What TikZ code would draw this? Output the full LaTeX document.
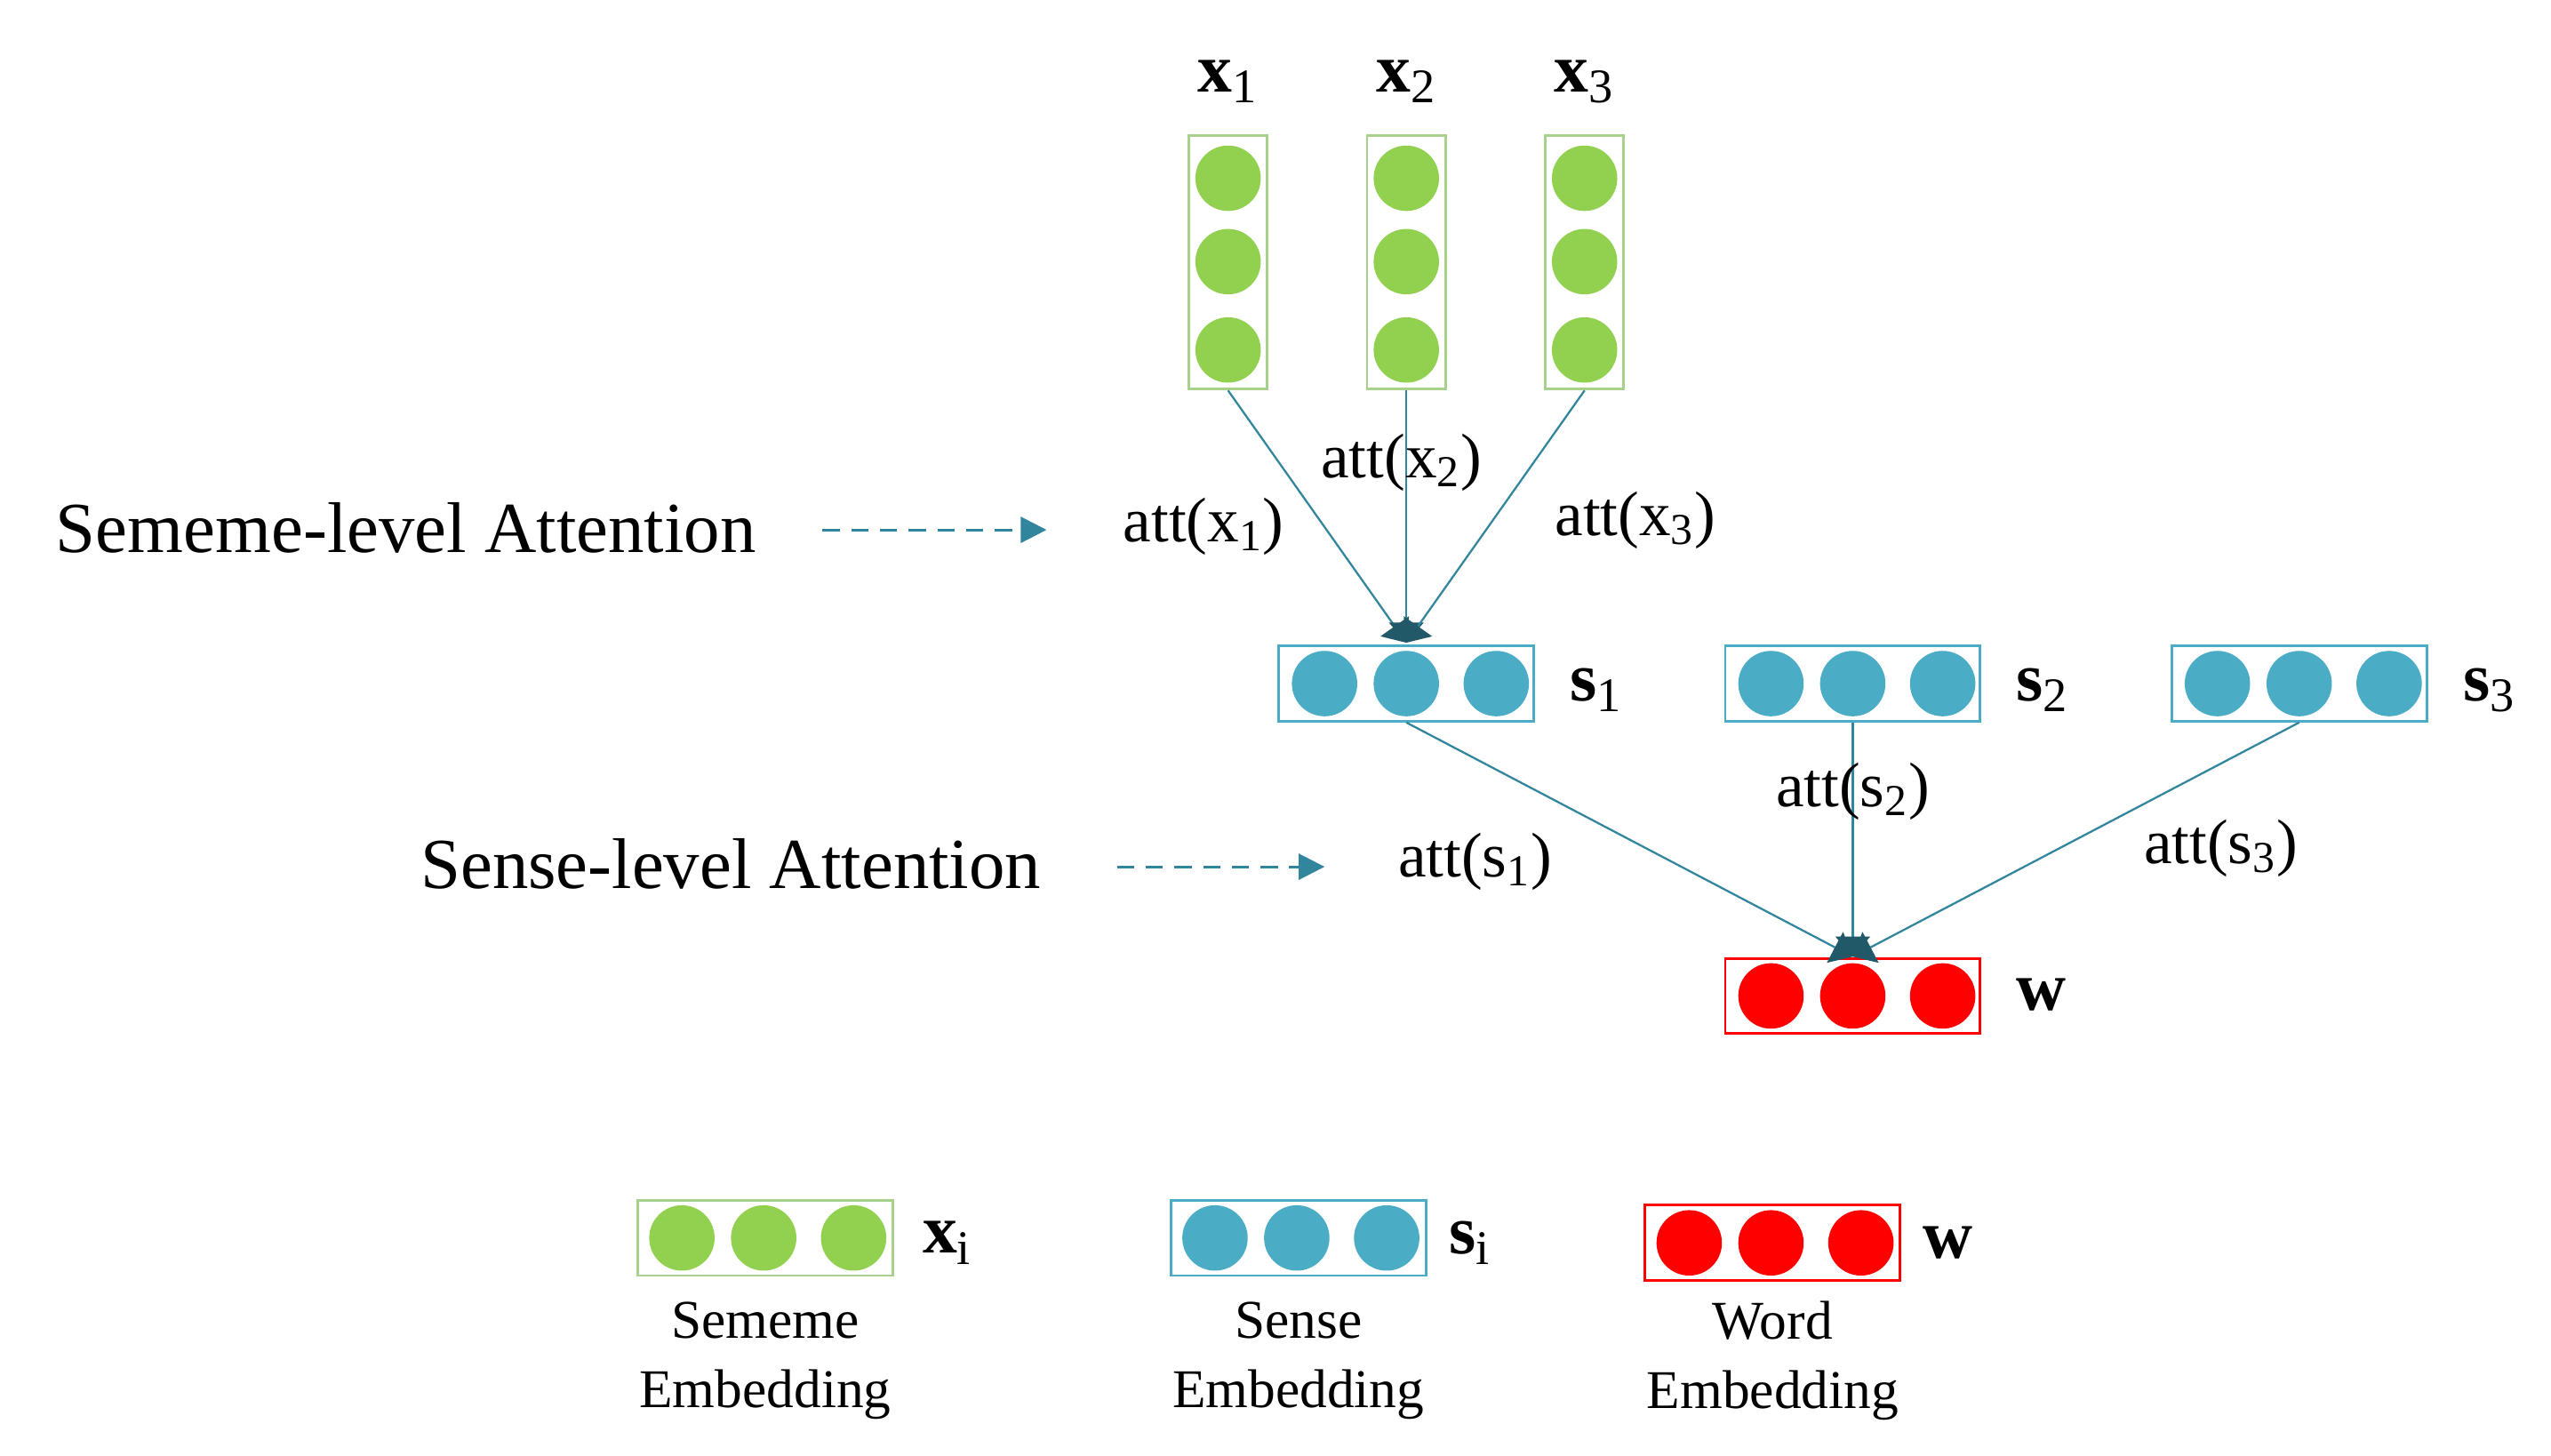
\documentclass[tikz,border=0pt]{standalone}
\usepackage{fontspec}
\setmainfont{Liberation Serif}
\usetikzlibrary{arrows.meta}
\definecolor{gc}{HTML}{92D050}\definecolor{gb}{HTML}{A9D18E}
\definecolor{bc}{HTML}{4BACC6}\definecolor{bb}{HTML}{4BACC6}
\definecolor{rc}{HTML}{FF0000}
\definecolor{ln}{HTML}{31859C}\definecolor{hd}{HTML}{215968}
\begin{document}
\begin{tikzpicture}[x=0.02cm,y=-0.02cm,
 dot/.style={circle,inner sep=0,minimum size=40\pgflinewidth*0+0.8cm},
 hbox/.style={draw=#1,line width=0.9pt,minimum width=3.12cm,minimum height=0.92cm,inner sep=0},
 vbox/.style={draw=gb,line width=0.9pt,minimum width=0.96cm,minimum height=3.1cm,inner sep=0},
 lab/.style={font=\fontsize{22}{26}\selectfont},
 big/.style={font=\fontsize{25}{30}\selectfont},
 bl/.style={font=\fontsize{24}{28}\selectfont\bfseries},
 leg/.style={font=\fontsize{19}{24}\selectfont,align=center},
 con/.style={draw=ln,line width=0.7pt,-{Triangle[width=12pt,length=7pt,color=hd]}},
 dsh/.style={draw=ln,line width=0.9pt,dash pattern=on 6pt off 4pt,-{Triangle[width=9pt,length=9pt,color=ln]}}]
\useasboundingbox (0,0) rectangle (1560,890);
% sememe columns
\foreach \n/\x in {1/751,2/860,3/969}{
 \node[vbox] (X\n) at (\x,160.5) {};
 \foreach \y in {109,160,214} \node[dot,fill=gc] at (\x,\y) {};
 \node[bl] (XL\n) at (\x,50) {x$_{\mathrm{\n}}$};
}
% senses
\foreach \n/\x in {1/860,2/1133,3/1406}{
 \node[hbox=bb] (S\n) at (\x,418) {};
 \foreach \d in {-50,0,55} \node[dot,fill=bc] at (\x+\d,418) {};
 \node[bl,anchor=west] (SL\n) at (\x+94,422) {s$_{\mathrm{\n}}$};
}
% word
\node[hbox=rc] (W) at (1133,609) {};
\foreach \d in {-50,0,55} \node[dot,fill=rc] at (1133+\d,609) {};
\node[bl,anchor=west] (WL) at (1227,608) {w};
% connectors
\coordinate (TS) at (860,393);
\coordinate (TW) at (1133,585);
\draw[con] (X1.south) -- (TS);
\draw[con] (X2.south) -- (TS);
\draw[con] (X3.south) -- (TS);
\draw[con] (S1.south) -- (TW);
\draw[con] (S2.south) -- (TW);
\draw[con] (S3.south) -- (TW);
% labels
\node[lab] (a1) at (736,322) {att(x$_{\mathrm{1}}$)};
\node[lab] (a2) at (857,283) {att(x$_{\mathrm{2}}$)};
\node[lab] (a3) at (1000,318) {att(x$_{\mathrm{3}}$)};
\node[lab] (b1) at (902,527) {att(s$_{\mathrm{1}}$)};
\node[lab] (b2) at (1133,484) {att(s$_{\mathrm{2}}$)};
\node[lab] (b3) at (1358,519) {att(s$_{\mathrm{3}}$)};
\node[big,anchor=west] (SM) at (28,323) {Sememe-level Attention};
\node[big,anchor=west] (SN) at (251,528) {Sense-level Attention};
\coordinate (d1s) at (503,324); \coordinate (d1e) at (640,324);
\coordinate (d2s) at (683,530); \coordinate (d2e) at (810,530);
\draw[dsh] (d1s) -- (d1e);
\draw[dsh] (d2s) -- (d2e);
% legend
\node[hbox=gb] (LG) at (468,757) {};
\foreach \x in {417,467,522} \node[dot,fill=gc] at (\x,757) {};
\node[bl,anchor=west] (LGl) at (558,760) {x$_{\mathrm{i}}$};
\node[hbox=bb] (LB) at (794,757) {};
\foreach \x in {743,793,848} \node[dot,fill=bc] at (\x,757) {};
\node[bl,anchor=west] (LBl) at (880,760) {s$_{\mathrm{i}}$};
\node[hbox=rc] (LR) at (1084,760) {};
\foreach \x in {1033,1083,1138} \node[dot,fill=rc] at (\x,760) {};
\node[bl,anchor=west] (LRl) at (1170,760) {w};
\node[leg] (t1) at (468,832) {Sememe\\Embedding};
\node[leg] (t2) at (794,832) {Sense\\Embedding};
\node[leg] (t3) at (1084,832) {Word\\Embedding};
\end{tikzpicture}
\end{document}
